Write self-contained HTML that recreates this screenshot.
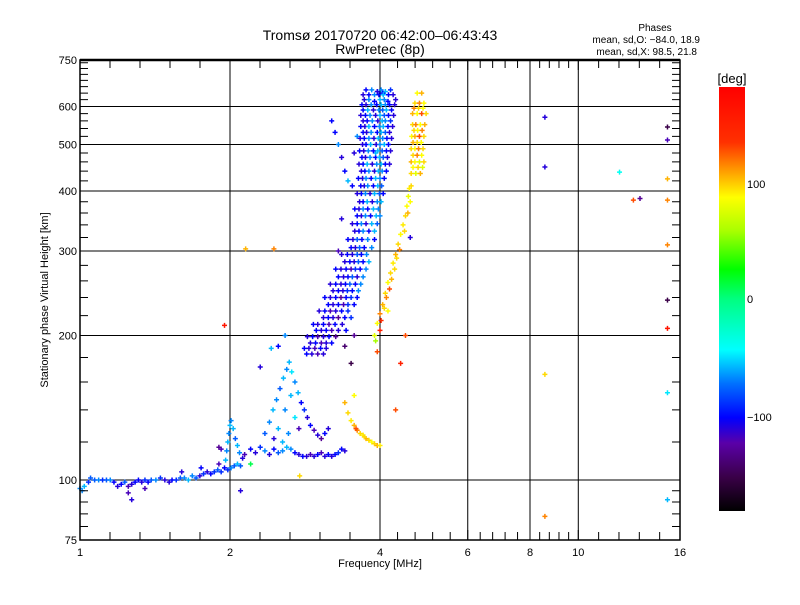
<!DOCTYPE html>
<html><head><meta charset="utf-8"><style>
body{margin:0;background:#fff}
svg text{font-family:"Liberation Sans",sans-serif;fill:#000}
</style></head><body>
<svg id="chart" width="800" height="600" viewBox="0 0 800 600" xmlns="http://www.w3.org/2000/svg">
<rect width="800" height="600" fill="#fff"/>
<text x="380" y="40" font-size="14" text-anchor="middle">Tromsø 20170720 06:42:00–06:43:43</text>
<text x="380" y="54" font-size="14" text-anchor="middle">RwPretec (8p)</text>
<text x="655" y="31" font-size="10" text-anchor="middle">Phases</text>
<text x="700" y="43" font-size="10" text-anchor="end">mean, sd,O: −84.0, 18.9</text>
<text x="697" y="55" font-size="10" text-anchor="end">mean, sd,X:  98.5, 21.8</text>
<g id="grid"></g>
<g id="points"></g>
<g id="axes"></g>
<text x="380" y="567" font-size="11" text-anchor="middle">Frequency [MHz]</text>
<text transform="translate(48,300) rotate(-90)" font-size="11" text-anchor="middle">Stationary phase Virtual Height [km]</text>
<defs><linearGradient id="cbg" x1="0" y1="1" x2="0" y2="0">
<stop offset="0" stop-color="#000"/><stop offset="0.08" stop-color="#3a0048"/><stop offset="0.16" stop-color="#5a00a8"/><stop offset="0.22" stop-color="#0000ff"/><stop offset="0.3" stop-color="#0070ff"/><stop offset="0.38" stop-color="#00ffff"/><stop offset="0.5" stop-color="#00ff80"/><stop offset="0.57" stop-color="#00ff00"/><stop offset="0.66" stop-color="#a8ff00"/><stop offset="0.74" stop-color="#ffff00"/><stop offset="0.8" stop-color="#ffa000"/><stop offset="0.87" stop-color="#ff3000"/><stop offset="1" stop-color="#ff0000"/>
</linearGradient></defs>
<rect x="719" y="87" width="26" height="424" fill="url(#cbg)"/>
<text x="732" y="83" font-size="13" text-anchor="middle">[deg]</text>
<text x="747" y="188" font-size="11">100</text>
<text x="747" y="303" font-size="11">0</text>
<text x="747" y="421" font-size="11">−100</text>
</svg>
<script>
const xMajor=[1,2,4,6,8,10,16];
const xLabels=["1","2","4","6","8","10","16"];
const xGrid=[2,4,6,8,10];
const yMajor=[75,100,200,300,400,500,600,750];
const yLabels=["75","100","200","300","400","500","600","750"];
const yGrid=[100,200,300,400,500,600];
const yMinor=[80,85,90,95,120,140,160,180,220,240,260,280,320,340,360,380,420,440,460,480,520,540,560,580,620,640,660,680,700,720,740];
const lowTrace=[[1.0,96,-70],[1.02,97,-60],[1.04,99,-90],[1.05,101,-80],[1.07,100,-80],[1.09,100,-70],[1.11,100,-90],[1.13,100,-80],[1.15,100,-70],[1.17,99,-100],[1.19,97,-110],[1.21,98,-100],[1.23,99,-80],[1.25,97,-120],[1.27,98,-110],[1.29,99,-100],[1.31,100,-100],[1.33,99,-110],[1.35,100,-90],[1.37,99,-100],[1.39,100,-80],[1.42,100,-70],[1.45,101,-90],[1.48,100,-110],[1.51,99,-110],[1.53,100,-100],[1.56,100,-90],[1.59,101,-80],[1.62,101,-70],[1.65,100,-60],[1.68,102,-70],[1.71,101,-80],[1.74,102,-110],[1.77,103,-90],[1.80,104,-110],[1.83,103,-100],[1.86,104,-90],[1.89,105,-80],[1.92,104,-90],[1.95,106,-100],[1.98,105,-90],[2.01,106,-70],[2.04,107,-80],[2.07,108,-60],[2.10,107,-80],[1.25,94,-120],[1.35,96,-120],[1.6,104,-110],[1.75,106,-100],[1.9,108,-120],[2.1,95,-110],[1.27,91,-110],[1.01,95,-70]];
const spike=[[1.96,110,-60],[1.97,115,-70],[1.98,120,-60],[1.99,125,-70],[2.0,130,-60],[2.01,133,-70],[2.03,128,-60],[2.05,122,-80],[2.07,118,-60],[2.09,114,-70],[2.12,111,-110],[2.14,113,-120],[1.92,116,-120],[1.90,117,-130],[2.2,108,10]];
const midTrace=[[2.2,116,-100],[2.25,114,-110],[2.3,117,-90],[2.35,115,-70],[2.4,113,-110],[2.45,116,-100],[2.5,114,-80],[2.55,115,-70],[2.6,117,-60],[2.65,116,-70],[2.7,114,-100],[2.75,113,-110],[2.8,112,-100],[2.85,112,-110],[2.9,113,-120],[2.95,112,-110],[3.0,113,-100],[3.05,114,-120],[3.1,112,-110],[3.15,113,-100],[3.2,112,-110],[3.25,113,-100],[3.3,114,-90],[3.35,116,-100],[3.4,115,-110]];
const triangle=[[2.35,125,-80],[2.4,132,-70],[2.44,140,-60],[2.48,147,-70],[2.52,155,-80],[2.56,163,-60],[2.6,170,-70],[2.63,176,-60],[2.66,168,-50],[2.7,160,-70],[2.74,152,-60],[2.78,145,-100],[2.82,140,-90],[2.86,135,-110],[2.9,130,-100],[2.95,127,-120],[3.0,124,-110],[3.05,122,-130],[3.1,125,-100],[3.15,128,-110],[2.5,128,-60],[2.58,140,-70],[2.65,150,-60],[2.7,135,-50],[2.62,125,-70],[2.55,120,-60],[2.45,122,-110],[2.75,128,-120],[2.42,188,-60],[2.5,190,-100],[2.3,172,-110],[2.58,200,-70]];
const oBlob=[[3.75,650,-100],[3.85,650,-70],[3.95,645,-110],[4.02,650,-70],[4.1,645,-60],[4.2,650,-90],
[3.72,620,-110],[3.8,620,-70],[3.9,615,-100],[4.0,620,-60],[4.08,620,-70],[4.15,615,-100],[4.3,620,-110],
[3.7,590,-100],[3.78,590,-60],[3.88,590,-110],[3.98,590,-70],[4.05,590,-80],[4.12,590,-60],[4.22,590,-100],
[3.7,560,-110],[3.77,560,-100],[3.86,560,-70],[3.96,560,-110],[4.04,560,-60],[4.1,560,-70],[4.2,560,-90],
[3.7,530,-100],[3.76,530,-110],[3.84,530,-70],[3.95,530,-100],[4.02,530,-60],[4.1,530,-80],[4.18,530,-110],
[3.69,500,-110],[3.75,500,-100],[3.83,500,-60],[3.93,500,-110],[4.0,500,-70],[4.08,500,-60],[4.16,500,-100],
[3.68,470,-100],[3.74,470,-110],[3.82,470,-70],[3.92,470,-100],[3.99,470,-60],[4.06,470,-80],[4.14,470,-110],
[3.67,440,-110],[3.73,440,-100],[3.8,440,-70],[3.9,440,-110],[3.97,440,-60],[4.04,440,-70],[4.12,440,-100],
[3.66,410,-100],[3.72,410,-110],[3.78,410,-70],[3.88,410,-100],[3.96,410,-60],[4.03,410,-80],
[3.64,380,-110],[3.7,380,-100],[3.77,380,-60],[3.86,380,-110],[3.95,380,-70],[4.02,380,-60],
[3.6,355,-100],[3.67,355,-110],[3.74,355,-70],[3.83,355,-100],[3.93,355,-60],[4.0,355,-70],
[3.56,330,-110],[3.63,330,-100],[3.7,330,-70],[3.8,330,-100],[3.9,330,-60],
[3.5,305,-100],[3.57,305,-110],[3.64,305,-80],[3.72,305,-100],[3.85,305,-70],
[3.4,285,-110],[3.48,285,-100],[3.55,285,-110],[3.62,285,-80],[3.7,285,-100],[3.8,285,-60],
[3.3,265,-100],[3.38,265,-110],[3.45,265,-100],[3.52,265,-80],[3.6,265,-110],[3.7,265,-70],
[3.22,248,-110],[3.3,248,-100],[3.37,248,-110],[3.44,248,-90],[3.52,248,-100],[3.62,248,-70],
[3.15,232,-100],[3.22,232,-110],[3.3,232,-100],[3.38,232,-120],[3.45,232,-90],[3.55,232,-100],
[3.08,218,-110],[3.15,218,-100],[3.22,218,-110],[3.3,218,-130],[3.4,218,-100],[3.5,218,-90],
[2.98,205,-100],[3.05,205,-110],[3.12,205,-100],[3.2,205,-120],[3.3,205,-110],[3.42,205,-100],
[2.9,193,-110],[2.97,193,-100],[3.05,193,-120],[3.12,193,-110],[3.2,193,-100],
[2.85,183,-100],[2.92,183,-110],[3.0,183,-120],[3.08,183,-110],
[3.25,530,-100],[3.3,500,-70],[3.35,470,-110],[3.4,440,-100],[3.45,420,-60],[3.52,410,-100],[3.55,480,-110],[3.6,520,-70],[3.2,560,-100],[3.35,350,-110],
[3.4,190,-140],[3.5,175,-150],[3.55,200,-130],[3.3,300,-120],[4.05,640,-100],[3.92,480,-60]];
const oBlobFill=[[3.7,635,-110],[3.8,635,-100],[3.9,635,-70],[3.98,635,-100],[4.06,635,-60],[4.16,635,-100],[4.25,635,-110],
[3.68,605,-100],[3.75,605,-110],[3.84,605,-70],[3.94,605,-100],[4.02,605,-60],[4.1,605,-70],[4.18,605,-100],[4.28,605,-110],
[3.66,575,-110],[3.74,575,-100],[3.82,575,-70],[3.92,575,-110],[4.0,575,-60],[4.08,575,-80],[4.16,575,-100],[4.26,575,-110],
[3.66,545,-100],[3.73,545,-110],[3.8,545,-60],[3.9,545,-100],[3.99,545,-70],[4.06,545,-60],[4.15,545,-100],[4.24,545,-110],
[3.65,515,-110],[3.72,515,-100],[3.8,515,-70],[3.89,515,-110],[3.97,515,-60],[4.05,515,-70],[4.13,515,-100],[4.22,515,-110],
[3.64,485,-100],[3.71,485,-110],[3.79,485,-70],[3.88,485,-100],[3.96,485,-60],[4.04,485,-80],[4.12,485,-100],[4.2,485,-110],
[3.63,455,-110],[3.7,455,-100],[3.77,455,-60],[3.86,455,-110],[3.94,455,-70],[4.02,455,-60],[4.1,455,-100],[4.18,455,-110],
[3.62,425,-100],[3.69,425,-110],[3.75,425,-70],[3.84,425,-100],[3.92,425,-60],[4.0,425,-70],[4.08,425,-100],
[3.6,395,-110],[3.67,395,-100],[3.74,395,-70],[3.82,395,-110],[3.9,395,-60],[3.99,395,-80],[4.06,395,-100],
[3.56,367,-100],[3.63,367,-110],[3.7,367,-70],[3.78,367,-100],[3.88,367,-60],[3.97,367,-70],
[3.52,342,-110],[3.6,342,-100],[3.67,342,-70],[3.75,342,-110],[3.85,342,-60],[3.95,342,-80],
[3.45,317,-100],[3.53,317,-110],[3.6,317,-80],[3.68,317,-100],[3.78,317,-70],[3.9,317,-100],
[3.35,295,-110],[3.44,295,-100],[3.52,295,-110],[3.6,295,-80],[3.67,295,-100],[3.76,295,-70],
[3.26,275,-100],[3.34,275,-110],[3.42,275,-100],[3.5,275,-120],[3.57,275,-90],[3.65,275,-100],[3.75,275,-70],
[3.18,256,-110],[3.26,256,-100],[3.34,256,-110],[3.41,256,-100],[3.48,256,-80],[3.57,256,-100],[3.66,256,-70],
[3.1,240,-100],[3.18,240,-110],[3.26,240,-100],[3.34,240,-130],[3.42,240,-100],[3.5,240,-90],[3.6,240,-100],
[3.02,225,-110],[3.1,225,-100],[3.18,225,-120],[3.26,225,-110],[3.35,225,-100],[3.45,225,-90],
[2.94,211,-100],[3.0,211,-110],[3.08,211,-100],[3.16,211,-120],[3.25,211,-100],[3.36,211,-110],
[2.86,199,-110],[2.93,199,-100],[3.0,199,-120],[3.08,199,-110],[3.16,199,-100],[3.26,199,-130],
[2.82,188,-100],[2.88,188,-110],[2.96,188,-120],[3.04,188,-100],[3.12,188,-110]];
const xLow=[[3.45,138,100],[3.5,133,95],[3.55,130,110],[3.6,127,120],[3.65,125,100],[3.7,124,95],[3.75,122,110],[3.8,121,100],[3.85,120,90],[3.9,119,100],[3.95,118,110],[4.0,118,95],[3.58,128,130],[3.72,123,100],[3.4,145,110],[3.55,150,90]];
const xTrace=[[3.9,200,80],[3.95,212,90],[4.0,222,120],[4.05,232,110],[4.1,245,100],[4.15,258,90],[4.2,270,100],[4.25,283,95],[4.3,295,110],[4.35,310,100],[4.4,325,90],[4.45,340,95],[4.5,355,100],[4.53,372,90],[4.56,390,85],[4.58,405,95],[4.02,215,140],[4.12,240,120],[4.22,262,110],[4.32,290,100],[3.92,195,60],[3.95,185,130],
[4.08,228,100],[4.18,250,130],[4.28,275,100],[4.38,302,120],[4.48,330,100],[4.55,360,110],[4.6,380,90],[4.62,410,100],[4.0,205,150],[4.15,225,90],
[4.75,640,90],[4.85,640,110],[4.7,610,100],[4.8,610,120],[4.9,610,90],[4.65,580,110],[4.75,580,90],[4.85,580,130],[4.95,580,100],
[4.65,550,100],[4.72,550,120],[4.82,550,90],[4.92,550,110],[4.63,520,90],[4.7,520,110],[4.8,520,130],[4.9,520,100],
[4.62,490,100],[4.7,490,90],[4.78,490,120],[4.88,490,100],[4.62,460,110],[4.7,460,90],[4.8,460,80],[4.9,460,100],[4.62,435,100],[4.72,435,80],[4.82,435,110],
[4.68,595,120],[4.78,595,100],[4.88,595,90],[4.68,535,100],[4.76,535,90],[4.86,535,120],[4.66,505,110],[4.75,505,100],[4.84,505,90],[4.66,475,100],[4.75,475,120],[4.85,475,90],[4.66,448,90],[4.77,448,100],[4.87,448,80]];
const scatter=[[15.1,544,-150],[15.1,511,-120],[15.1,424,110],[15.1,383,120],[15.1,309,120],[15.1,237,-150],[15.1,207,160],[15.1,152,-50],[15.1,91,-60],[8.57,570,-110],[8.57,449,-110],[8.57,166,100],[8.57,84,120],[12.1,438,-40],[12.9,383,130],[13.3,386,-130],[2.15,303,110],[2.45,303,120],[1.95,210,160],[2.76,102,100],[4.6,320,-110],[4.5,200,130],[4.4,175,150],[4.3,140,130]];

const L=80,R=680,T=60,B=540;
function xs(f){return L+(R-L)*Math.log(f)/Math.log(16);}
function ys(h){return B-(B-T)*Math.log(h/75)/Math.log(10);}
const stops=[[-180,[0,0,0]],[-150,[58,0,72]],[-125,[90,0,168]],[-100,[0,0,255]],[-75,[0,112,255]],[-45,[0,255,255]],[0,[0,255,128]],[25,[0,255,0]],[60,[168,255,0]],[90,[255,255,0]],[115,[255,160,0]],[135,[255,48,0]],[180,[255,0,0]]];
function col(p){for(let i=1;i<stops.length;i++){if(p<=stops[i][0]){const a=stops[i-1],b=stops[i],t=(p-a[0])/(b[0]-a[0]);const c=a[1].map((v,k)=>Math.round(v+(b[1][k]-v)*t));return `rgb(${c})`;}}return 'rgb(255,0,0)';}
const NS='http://www.w3.org/2000/svg';
function mk(tag,attrs,parent){const e=document.createElementNS(NS,tag);for(const k in attrs)e.setAttribute(k,attrs[k]);parent.appendChild(e);return e;}
const grid=document.getElementById('grid'),axes=document.getElementById('axes'),pts=document.getElementById('points');
xGrid.forEach(v=>{const l=mk('line',{x1:xs(v),x2:xs(v),y1:T,y2:B,stroke:'#000','stroke-width':1},grid);

});
yGrid.forEach(v=>{const l=mk('line',{x1:L,x2:R,y1:ys(v),y2:ys(v),stroke:'#000','stroke-width':1},grid);

});
const series=[lowTrace,spike,midTrace,triangle,oBlob,oBlobFill,xLow,xTrace,scatter];
series.forEach(s=>s.forEach(d=>{const x=xs(d[0]),y=ys(d[1]);
const p=mk('path',{d:`M${x-2.5} ${y}h5M${x} ${y-2.5}v5`,stroke:col(d[2]),'stroke-width':1.5,fill:'none'},pts);

}));
const frame=mk('rect',{x:L,y:T,width:R-L,height:B-T,fill:'none',stroke:'#000','stroke-width':1.5},axes);


mk('line',{x1:L,x2:R,y1:T,y2:T,stroke:'#000','stroke-width':2.5},axes);
let tk='';
for(let i=0;i<xMajor.length-1;i++){const a=xs(xMajor[i]),b=xs(xMajor[i+1]);for(let j=1;j<5;j++){const x=a+(b-a)*j/5;tk+=`M${x} ${B}v-8M${x} ${T}v8`;}}
xMajor.forEach(v=>{const x=xs(v);tk+=`M${x} ${B}v-10M${x} ${T}v10`;});
yMinor.forEach(v=>{const y=ys(v);tk+=`M${L} ${y}h8M${R} ${y}h-8`;});
const ticks=mk('path',{d:tk,stroke:'#000','stroke-width':1,fill:'none'},axes);


xMajor.forEach((v,i)=>{const t=mk('text',{x:xs(v),y:B+16,'font-size':11,'text-anchor':'middle'},axes);t.textContent=xLabels[i];

});
yMajor.forEach((v,i)=>{const t=mk('text',{x:L-3,y:ys(v)+4,'font-size':11,'text-anchor':'end'},axes);t.textContent=yLabels[i];

});
</script>
</body></html>
